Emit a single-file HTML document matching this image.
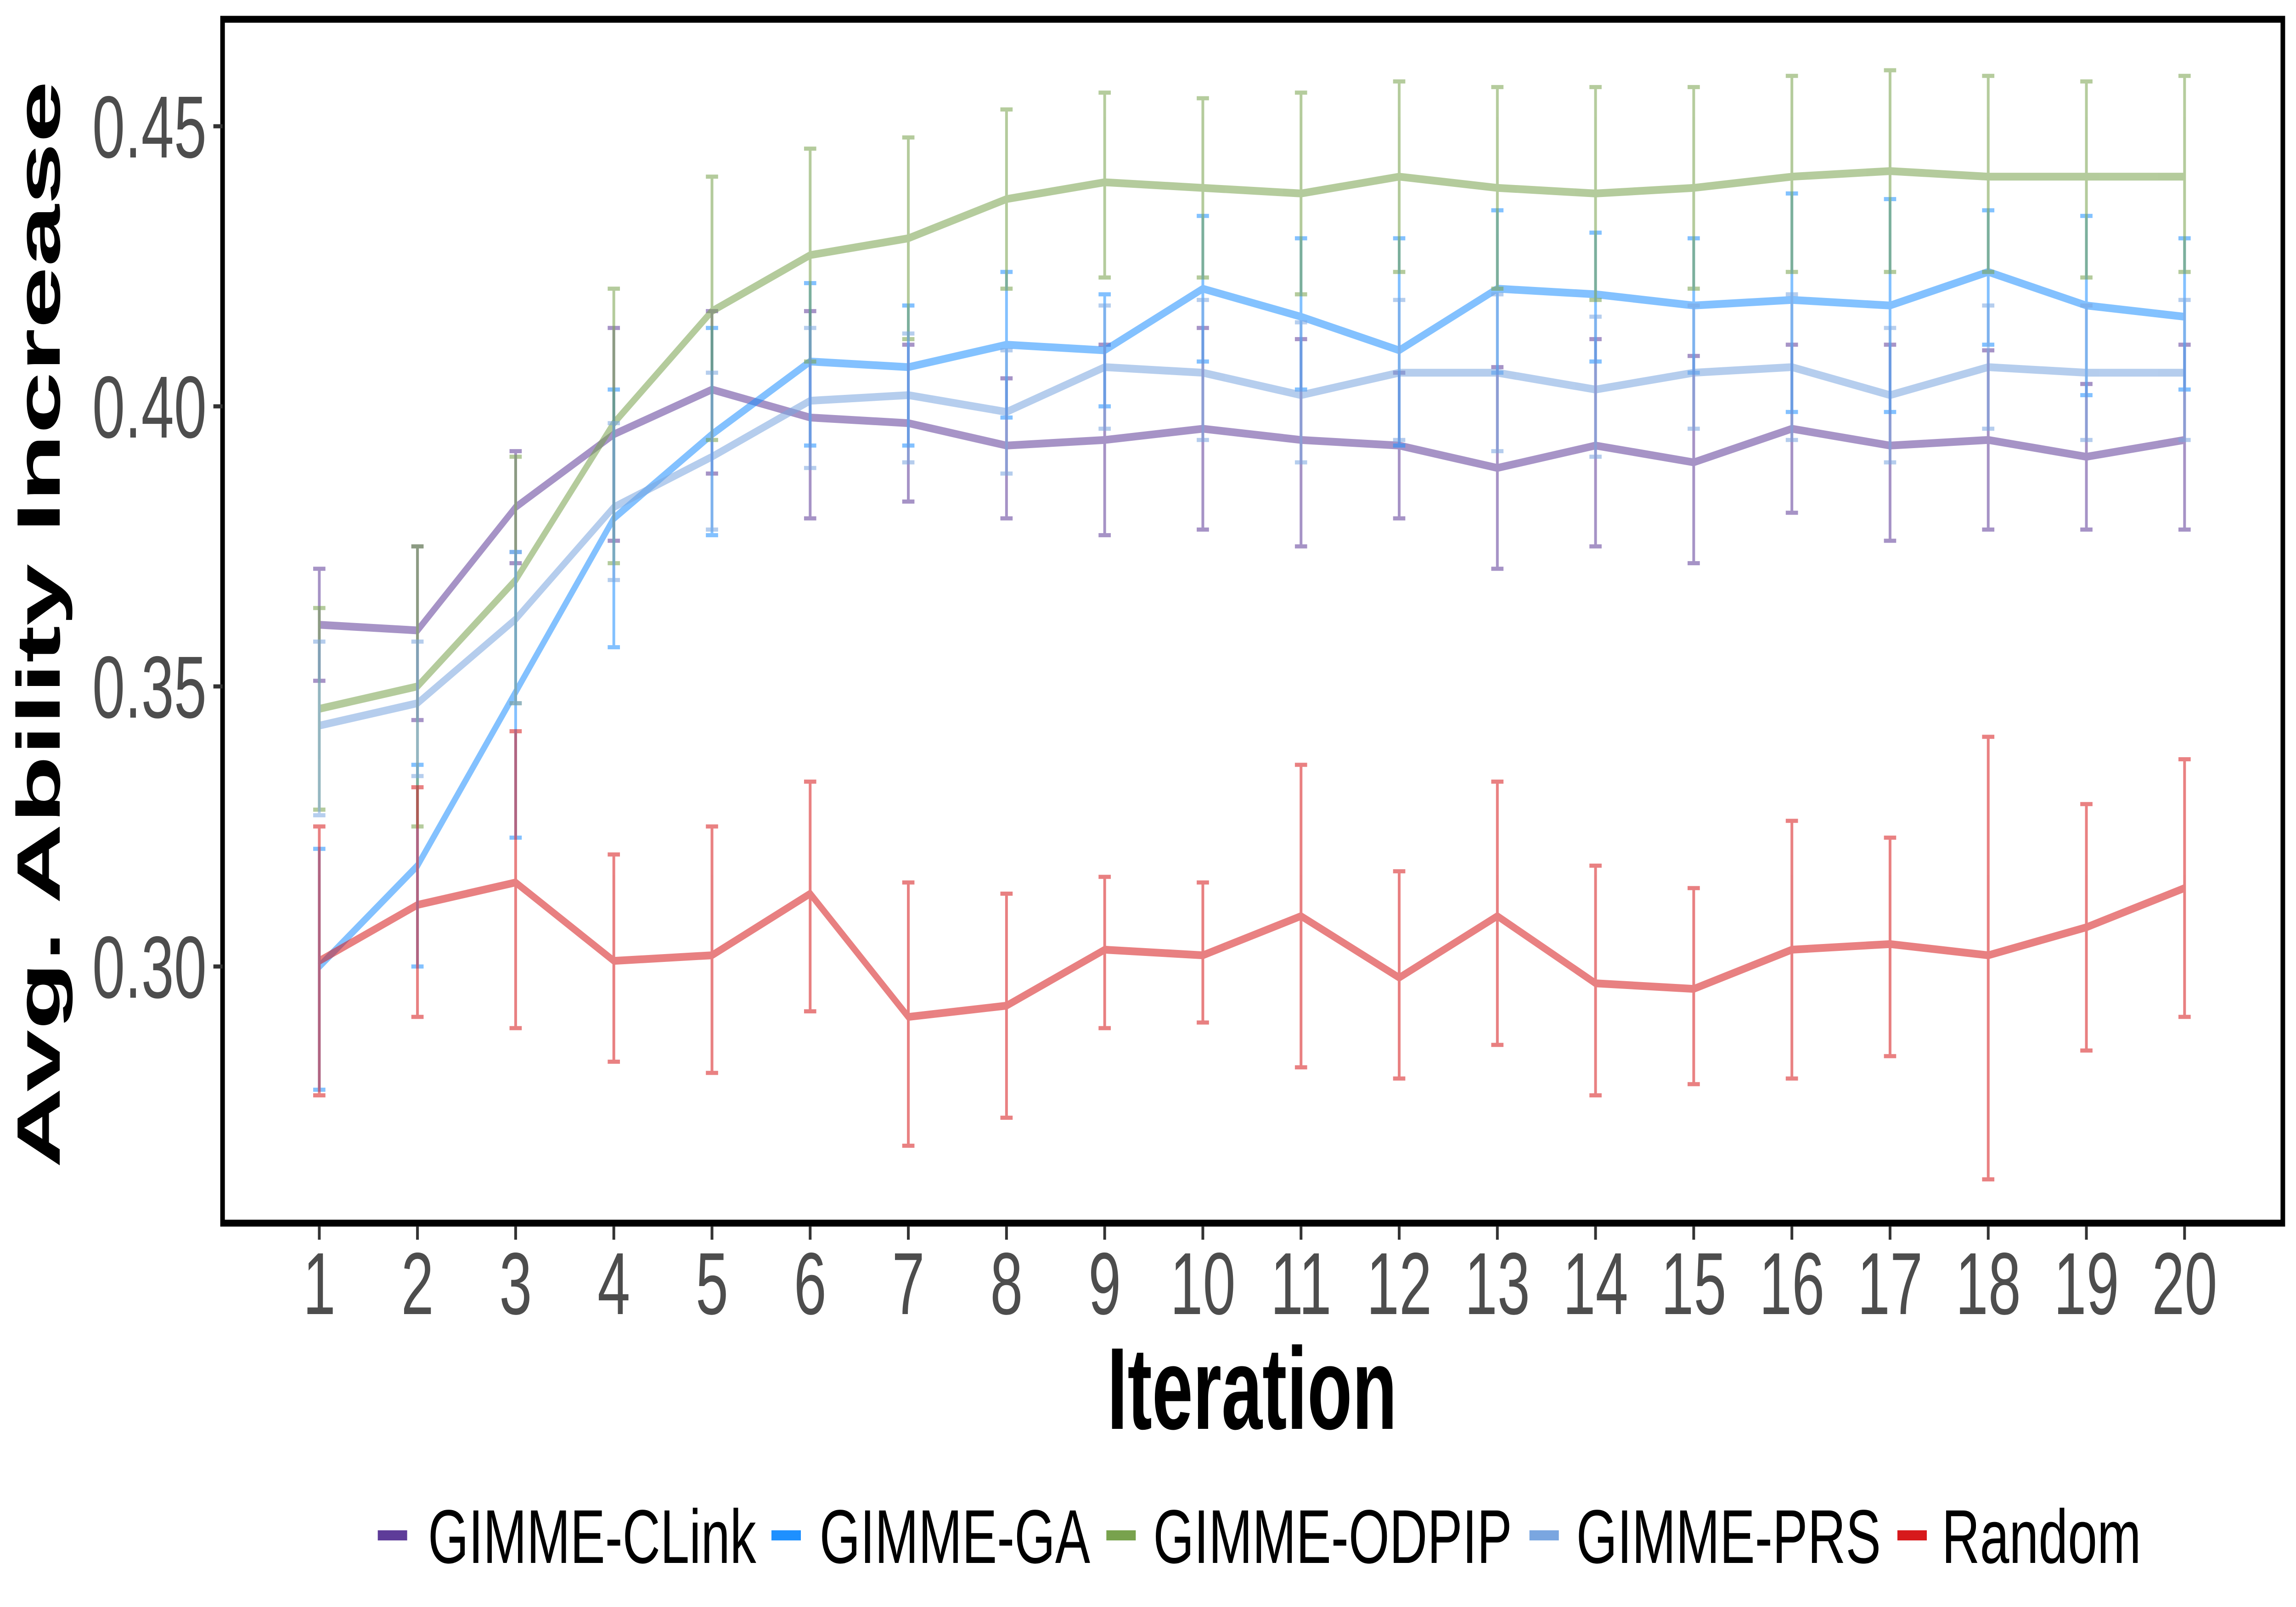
<!DOCTYPE html>
<html><head><meta charset="utf-8"><style>
html,body{margin:0;padding:0;background:#fff;overflow:hidden;width:100vw;height:100vh;}
svg{display:block;width:100vw;height:100vh;}
</style></head><body>
<svg id="chart" viewBox="0 0 7500 3500" preserveAspectRatio="none" xmlns="http://www.w3.org/2000/svg">
<rect x="0" y="0" width="7500" height="3500" fill="#fff"/>
<g id="marks"></g>
<rect x="727" y="42" width="6730" height="2622" fill="none" stroke="#000" stroke-width="15"/>
<g id="axes"></g>
<text x="0" y="0" transform="translate(195,1360) rotate(-90)" text-anchor="middle" font-family="Liberation Sans, sans-serif" font-weight="bold" font-size="200" textLength="2368" lengthAdjust="spacingAndGlyphs" fill="#000">Avg. Ability Increase</text>
<text x="4090" y="3112" text-anchor="middle" font-family="Liberation Sans, sans-serif" font-weight="bold" font-size="254" textLength="947" lengthAdjust="spacingAndGlyphs" fill="#000">Iteration</text>
<g id="legend"></g>
</svg>
<script>
const iterations = [1,2,3,4,5,6,7,8,9,10,11,12,13,14,15,16,17,18,19,20];
const yTicks = [0.30,0.35,0.40,0.45];
const yTickLabels = ["0.30","0.35","0.40","0.45"];
const seriesNames = ["GIMME-CLink","GIMME-GA","GIMME-ODPIP","GIMME-PRS","Random"];
const clinkMean = [0.361,0.360,0.382,0.395,0.403,0.398,0.397,0.393,0.394,0.396,0.394,0.393,0.389,0.393,0.390,0.396,0.393,0.394,0.391,0.394];
const clinkLow  = [0.351,0.344,0.372,0.376,0.388,0.380,0.383,0.380,0.377,0.378,0.375,0.380,0.371,0.375,0.372,0.381,0.376,0.378,0.378,0.378];
const clinkHigh = [0.371,0.375,0.392,0.414,0.417,0.417,0.411,0.405,0.411,0.414,0.412,0.406,0.407,0.412,0.409,0.411,0.411,0.410,0.404,0.411];
const gaMean = [0.300,0.318,0.349,0.380,0.395,0.408,0.407,0.411,0.410,0.421,0.416,0.410,0.421,0.420,0.418,0.419,0.418,0.424,0.418,0.416];
const gaLow  = [0.278,0.300,0.323,0.357,0.377,0.393,0.393,0.398,0.400,0.408,0.403,0.393,0.406,0.408,0.406,0.399,0.399,0.411,0.402,0.403];
const gaHigh = [0.321,0.336,0.374,0.403,0.414,0.422,0.418,0.424,0.420,0.434,0.430,0.430,0.435,0.431,0.430,0.438,0.437,0.435,0.434,0.430];
const odpipMean = [0.346,0.350,0.369,0.397,0.417,0.427,0.430,0.437,0.440,0.439,0.438,0.441,0.439,0.438,0.439,0.441,0.442,0.441,0.441,0.441];
const odpipLow  = [0.328,0.325,0.347,0.372,0.394,0.408,0.412,0.421,0.423,0.423,0.420,0.424,0.421,0.419,0.421,0.424,0.424,0.424,0.423,0.424];
const odpipHigh = [0.364,0.375,0.391,0.421,0.441,0.446,0.448,0.453,0.456,0.455,0.456,0.458,0.457,0.457,0.457,0.459,0.460,0.459,0.458,0.459];
const prsMean = [0.343,0.347,0.362,0.382,0.391,0.401,0.402,0.399,0.407,0.406,0.402,0.406,0.406,0.403,0.406,0.407,0.402,0.407,0.406,0.406];
const prsLow  = [0.327,0.334,0.347,0.369,0.378,0.389,0.390,0.388,0.396,0.394,0.390,0.394,0.392,0.391,0.396,0.394,0.390,0.396,0.394,0.394];
const prsHigh = [0.358,0.358,0.374,0.397,0.406,0.414,0.413,0.410,0.418,0.419,0.415,0.419,0.420,0.416,0.418,0.420,0.414,0.418,0.418,0.419];
const randomMean = [0.301,0.311,0.315,0.301,0.302,0.313,0.291,0.293,0.303,0.302,0.309,0.298,0.309,0.297,0.296,0.303,0.304,0.302,0.307,0.314];
const randomLow  = [0.277,0.291,0.289,0.283,0.281,0.292,0.268,0.273,0.289,0.290,0.282,0.280,0.286,0.277,0.279,0.280,0.284,0.262,0.285,0.291];
const randomHigh = [0.325,0.332,0.342,0.320,0.325,0.333,0.315,0.313,0.316,0.315,0.336,0.317,0.333,0.318,0.314,0.326,0.323,0.341,0.329,0.337];

const NS = "http://www.w3.org/2000/svg";
const xScale = i => 1043 + (i - 1) * (7136 - 1043) / 19;
const yScale = v => 2105 - (v - 0.30) * (2105 - 275) / 0.15;

const series = [
  {name: seriesNames[0], mean: clinkMean, low: clinkLow, high: clinkHigh, color: "#5e3c99", key: "clink"},
  {name: seriesNames[1], mean: gaMean, low: gaLow, high: gaHigh, color: "#1e90ff", key: "ga"},
  {name: seriesNames[2], mean: odpipMean, low: odpipLow, high: odpipHigh, color: "#78a24d", key: "odpip"},
  {name: seriesNames[3], mean: prsMean, low: prsLow, high: prsHigh, color: "#7aa6e0", key: "prs"},
  {name: seriesNames[4], mean: randomMean, low: randomLow, high: randomHigh, color: "#d7191c", key: "random"}
];
const lineAlpha = [0.55, 0.55, 0.55, 0.55, 0.55];

function mk(tag, attrs, parent) {
  const e = document.createElementNS(NS, tag);
  for (const k in attrs) e.setAttribute(k, attrs[k]);
  parent.appendChild(e);
  return e;
}

const marks = document.getElementById("marks");
series.forEach((s, si) => {
  const g = mk("g", {opacity: lineAlpha[si]}, marks);
  
  
  iterations.forEach((it, i) => {
    const x = xScale(it);
    const eb = mk("path", {d: `M${x-20},${yScale(s.high[i])}H${x+20}M${x},${yScale(s.high[i])}V${yScale(s.low[i])}M${x-20},${yScale(s.low[i])}H${x+20}`, stroke: s.color, "stroke-width": 9, fill: "none"}, g);
    
    
  });
  const d = iterations.map((it, i) => (i ? "L" : "M") + xScale(it) + "," + yScale(s.mean[i])).join("");
  const ln = mk("path", {d: d, stroke: s.color, "stroke-width": 17, fill: "none", "stroke-linejoin": "round"}, g);
  
  
});

const axes = document.getElementById("axes");
yTicks.forEach((v, i) => {
  const y = yScale(v);
  const t = mk("line", {x1: 697, x2: 727, y1: y, y2: y, stroke: "#333", "stroke-width": 9}, axes);
  
  
  const lb = mk("text", {x: 675, y: y + 68, "text-anchor": "end", "font-family": "Liberation Sans, sans-serif", "font-size": 192, fill: "#4d4d4d"}, axes);
  lb.textContent = yTickLabels[i];
  
  
});
iterations.forEach(it => {
  const x = xScale(it);
  const t = mk("line", {x1: x, x2: x, y1: 2671, y2: 2700, stroke: "#333", "stroke-width": 9}, axes);
  
  
  const lb = mk("text", {x: x, y: 2862, "text-anchor": "middle", "font-family": "Liberation Sans, sans-serif", "font-size": 192, fill: "#4d4d4d"}, axes);
  lb.textContent = String(it);
  
  
});

const legend = document.getElementById("legend");
const legendKeyX = [1234, 2520, 3614, 4996, 6198];
const legendTextX = [1398, 2677, 3767, 5149, 6343];
const legendTextW = [1072, 884, 1172, 995, 651];
series.forEach((s, i) => {
  const g = mk("g", {}, legend);
  
  
  const k = mk("line", {x1: legendKeyX[i], x2: legendKeyX[i] + 96, y1: 3344, y2: 3344, stroke: s.color, "stroke-width": 22}, g);
  
  
  const t = mk("text", {x: legendTextX[i], y: 3404, "font-family": "Liberation Sans, sans-serif", "font-size": 166, fill: "#000", textLength: legendTextW[i], lengthAdjust: "spacingAndGlyphs"}, g);
  t.textContent = s.name;
  
  
});
</script>
</body></html>
